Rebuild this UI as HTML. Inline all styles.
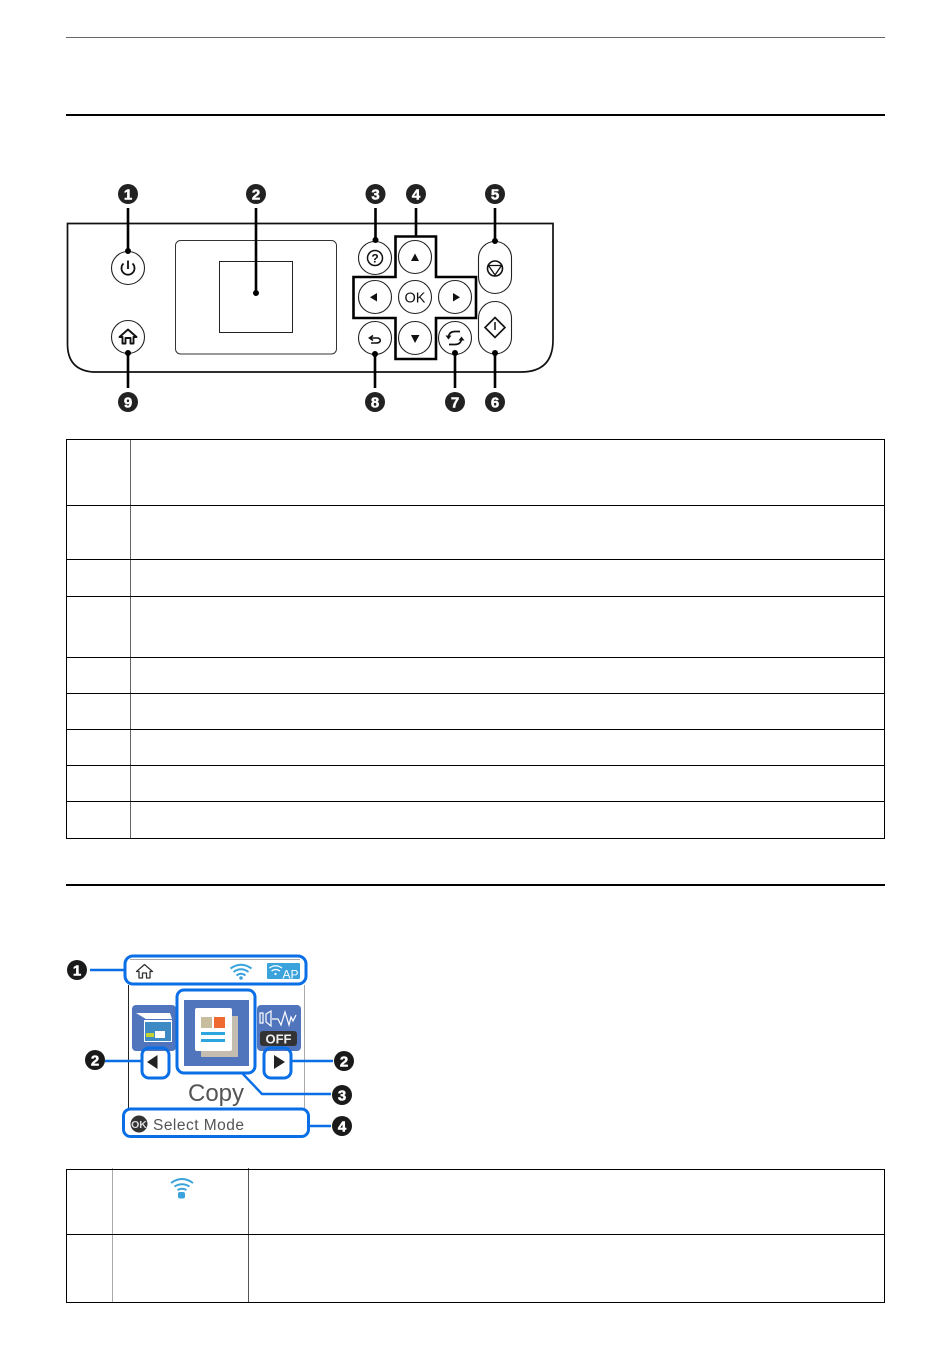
<!DOCTYPE html>
<html><head><meta charset="utf-8"><style>
html,body{margin:0;padding:0;background:#fff}
svg{display:block}
text{font-family:"Liberation Sans",sans-serif}
.n{font-weight:700;font-size:15px;fill:#fff;stroke:#fff;stroke-width:.5px;text-anchor:middle}
</style></head><body>
<svg width="950" height="1370" viewBox="0 0 950 1370" xmlns="http://www.w3.org/2000/svg">
<rect width="950" height="1370" fill="#fff"/>
<rect x="66" y="37" width="819" height="1" fill="#666"/>
<rect x="66" y="114" width="819" height="2" fill="#000"/>
<rect x="66" y="884" width="819" height="2" fill="#000"/>

<!-- panel -->
<path d="M67.500 223.500H553V340Q553 372 521 372H93Q67.500 370 67.500 344Z" fill="none" stroke="#111" stroke-width="1.700"/>
<rect x="175.500" y="240.500" width="161" height="113.500" rx="5" fill="none" stroke="#333" stroke-width="1"/>
<rect x="219.500" y="261.500" width="73" height="71" fill="none" stroke="#222" stroke-width="1"/>
<path d="M395.500 277V236.500H436V277H476V318H436V359H395.500V318H353.500V277Z" fill="#fff" stroke="#000" stroke-width="2.600"/>
<g fill="#fff" stroke="#222" stroke-width="1.100">
<circle cx="128" cy="268" r="16.500"/><circle cx="128" cy="337" r="16.500"/>
<circle cx="375" cy="258" r="16.500"/><circle cx="415" cy="257" r="16.500"/>
<circle cx="375" cy="297" r="16.500"/><circle cx="415" cy="297" r="16.500"/><circle cx="455" cy="297" r="16.500"/>
<circle cx="375" cy="338" r="16.500"/><circle cx="415" cy="338" r="16.500"/><circle cx="455" cy="338" r="16.500"/>
<rect x="478.500" y="241.500" width="33" height="52" rx="16.500"/>
<rect x="478.500" y="301.500" width="33" height="52.500" rx="16.500"/>
</g>
<!-- icons -->
<path d="M123.500 263.500A6.500 6.500 0 1 0 132.500 263.500" fill="none" stroke="#111" stroke-width="1.800"/>
<line x1="128" y1="260.500" x2="128" y2="269" stroke="#111" stroke-width="1.800"/>
<path d="M119.500 337L128 329.500L136.500 337H133.500V343.500H130.500V338H125.500V343.500H122.500V337Z" fill="none" stroke="#111" stroke-width="1.900" stroke-linejoin="round"/>
<circle cx="375" cy="258" r="7.500" fill="none" stroke="#111" stroke-width="1.500"/>
<text x="375" y="262.300" font-size="12" font-weight="700" text-anchor="middle" fill="#111">?</text>
<path d="M415 253.500L419 261H411Z M377 293V301.500L370 297.200Z M453 293L460 297.200L453 301.500Z M411 335H419.500L415 343Z" fill="#111"/>
<text x="415" y="302.500" font-size="14.500" text-anchor="middle" fill="#111">OK</text>
<path d="M370 338H378Q381 339 380 341.500Q379 343 376 343H371M373 335.500L369.500 338L373 340.500" fill="none" stroke="#111" stroke-width="1.600"/>
<path d="M448.500 336.500Q449.500 331.500 455 331.500H460M461.500 339.500Q460.500 344.500 455 344.500H449" fill="none" stroke="#111" stroke-width="1.700"/>
<path d="M445.500 335.500L451.500 335.500L448.500 339.500Z M458.500 340.500H464.500L461.500 336.500Z" fill="#111"/>
<circle cx="495" cy="268.500" r="7.500" fill="none" stroke="#111" stroke-width="1.600"/>
<path d="M488.500 265.500H501.500L495 275Z" fill="none" stroke="#111" stroke-width="1.300"/>
<path d="M495 317.500L505 327.500L495 337.500L485 327.500Z" fill="none" stroke="#111" stroke-width="1.600"/>
<line x1="495" y1="322" x2="495" y2="330" stroke="#111" stroke-width="1.500"/>
<!-- leaders -->
<g stroke="#000" stroke-width="2.600" fill="none">
<path d="M128 208V251M256 208V293M375.500 208V240M416 208V237M495 208V241M128 354V388M375 354V388M455 354V388M495 354V388"/>
</g>
<g fill="#000">
<circle cx="128" cy="251" r="3"/><circle cx="256" cy="293" r="3"/><circle cx="375.500" cy="240" r="3"/><circle cx="495" cy="241" r="3"/>
<circle cx="128" cy="353" r="3"/><circle cx="375" cy="354" r="3"/><circle cx="455" cy="353" r="3"/><circle cx="495" cy="353" r="3"/>
</g>
<g fill="#222">
<circle cx="128" cy="194" r="10"/><circle cx="256" cy="194" r="10"/><circle cx="375.500" cy="194" r="10"/><circle cx="416" cy="194" r="10"/><circle cx="495" cy="194" r="10"/>
<circle cx="128" cy="402" r="10"/><circle cx="375" cy="402" r="10"/><circle cx="455" cy="402" r="10"/><circle cx="495" cy="402" r="10"/>
</g>
<text class="n" x="128" y="199.500">1</text><text class="n" x="256" y="199.500">2</text><text class="n" x="375.500" y="199.500">3</text><text class="n" x="416" y="199.500">4</text><text class="n" x="495" y="199.500">5</text>
<text class="n" x="128" y="407.500">9</text><text class="n" x="375" y="407.500">8</text><text class="n" x="455" y="407.500">7</text><text class="n" x="495" y="407.500">6</text>

<!-- table 1 -->
<path d="M130.500 439V839" stroke="#666" stroke-width="1" fill="none"/>
<g stroke="#000" stroke-width="1" fill="none">
<rect x="66.500" y="439.500" width="818" height="399"/>
<path d="M66.500 505.500H884.500M66.500 559.500H884.500M66.500 596.500H884.500M66.500 657.500H884.500M66.500 693.500H884.500M66.500 729.500H884.500M66.500 765.500H884.500M66.500 801.500H884.500"/>
</g>

<!-- screen -->
<line x1="128.500" y1="985" x2="128.500" y2="1108" stroke="#222" stroke-width="1"/>
<line x1="304.500" y1="985" x2="304.500" y2="1108" stroke="#aaa" stroke-width="1"/>
<line x1="130" y1="959.500" x2="300" y2="959.500" stroke="#aaa" stroke-width="1"/>
<path d="M136.500 971.500L144.500 964.500L152.500 971.500H150V978H146.500V973H142.500V978H139V971.500Z" fill="none" stroke="#333" stroke-width="1.300" stroke-linejoin="round"/>
<g fill="none" stroke="#3ba3dc" stroke-width="2">
<path d="M230.500 968.500Q241 961 251.500 968.500M233.500 972Q241 966.500 248.500 972M236.500 975.500Q241 972 245.500 975.500"/>
</g>
<circle cx="241" cy="978" r="1.800" fill="#3ba3dc"/>
<rect x="267" y="963" width="33" height="16" rx="1" fill="#3ba3dc"/>
<g fill="none" stroke="#fff" stroke-width="1.300"><path d="M269.500 968Q275.500 963.500 282 968M271.500 971Q275.500 968 280 971"/></g>
<circle cx="275.500" cy="974" r="1.100" fill="#fff"/>
<text x="282.500" y="978.500" font-size="12" fill="#fff">AP</text>

<rect x="132" y="1005" width="44" height="46" rx="4" fill="#5075bc"/>
<path d="M136 1013H170L172 1019H146Z" fill="#fff"/>
<rect x="144" y="1020" width="28" height="22" fill="#fff"/>
<rect x="145" y="1022" width="26" height="19" fill="#3d8ac4"/>
<rect x="155" y="1031" width="10" height="7" fill="#fff"/>
<rect x="146" y="1033" width="8" height="4" fill="#c5d32f"/>
<rect x="257" y="1005" width="44" height="46" rx="4" fill="#5075bc"/>
<path d="M260 1013H263V1023H260ZM266 1014L271 1011V1026L266 1022Z" fill="none" stroke="#fff" stroke-width="1.200"/>
<path d="M272 1019H278L281 1025L285 1012L289 1025L291 1017L293 1021L296 1015" fill="none" stroke="#fff" stroke-width="1.200"/>
<rect x="260" y="1031" width="37" height="15" rx="3" fill="#333"/>
<text x="278.500" y="1043.500" font-size="13" font-weight="700" fill="#eee" text-anchor="middle">OFF</text>

<rect x="184" y="1000" width="65" height="66" fill="#5075bc"/>
<rect x="201" y="1016" width="37" height="41" fill="#c5bdb0"/>
<rect x="195" y="1008" width="37" height="43" rx="2" fill="#fff"/>
<rect x="201" y="1017" width="11" height="11" fill="#c9bda0"/>
<rect x="214" y="1017" width="11" height="11" fill="#ef6a30"/>
<rect x="201" y="1032" width="24" height="3" fill="#2ea5de"/>
<rect x="201" y="1039" width="24" height="3" fill="#2ea5de"/>

<path d="M157.500 1055V1069L147 1062Z" fill="#222"/>
<path d="M274 1055V1069L285 1062Z" fill="#222"/>
<text x="216" y="1101" font-size="24" text-anchor="middle" fill="#555">Copy</text>
<circle cx="139" cy="1124" r="8.500" fill="#333"/>
<text x="139" y="1128" font-size="10.500" font-weight="700" text-anchor="middle" fill="#ddd">OK</text>
<text x="153" y="1130" font-size="15.500" fill="#555" textLength="91">Select Mode</text>

<g fill="none" stroke="#0a6ee6" stroke-width="3">
<rect x="125" y="956" width="181" height="28" rx="8" fill="none"/>
<rect x="177" y="990" width="78" height="83" rx="7"/>
<rect x="142" y="1048" width="27" height="30" rx="7"/>
<rect x="264" y="1048" width="27" height="30" rx="7"/>
<rect x="123.500" y="1109" width="185" height="27.500" rx="7"/>
<path d="M90 970H125M105 1061H142M291 1061H333M242 1073L262 1094H331M309 1126H331" stroke-width="2.400"/>
</g>
<g fill="#1a1a1a">
<circle cx="77" cy="970" r="10"/><circle cx="95" cy="1060" r="10"/><circle cx="344" cy="1061" r="10"/><circle cx="342" cy="1095" r="10"/><circle cx="342" cy="1126" r="10"/>
</g>
<text class="n" x="77" y="975.500">1</text><text class="n" x="95" y="1065.500">2</text><text class="n" x="344" y="1066.500">2</text><text class="n" x="342" y="1100.500">3</text><text class="n" x="342" y="1131.500">4</text>

<!-- table 2 -->
<path d="M112.500 1168V1302.500" stroke="#aaa" stroke-width="1" fill="none"/>
<path d="M248.500 1168V1302.500" stroke="#555" stroke-width="1" fill="none"/>
<g stroke="#000" stroke-width="1" fill="none">
<rect x="66.500" y="1169.500" width="818" height="133"/>
<path d="M66.500 1234.500H884.500"/>
</g>
<g fill="none" stroke="#3ba3dc" stroke-width="1.900">
<path d="M171 1183Q182 1175 193 1183M174.500 1186.500Q182 1182 189.500 1186.500M177.500 1190Q182 1187.500 186.500 1190"/>
</g>
<rect x="178" y="1192" width="7" height="6.500" rx="2" fill="#3ba3dc"/>
</svg>
</body></html>
